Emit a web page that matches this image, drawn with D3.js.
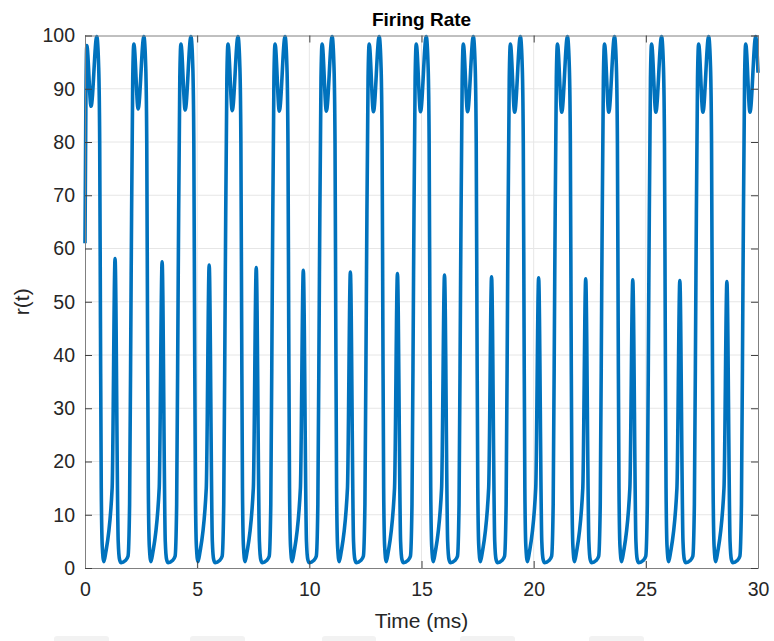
<!DOCTYPE html>
<html>
<head>
<meta charset="utf-8">
<script src="https://cdn.jsdelivr.net/npm/d3@7"></script>
<style>
  html, body { margin: 0; padding: 0; background: #ffffff; }
  svg { display: block; font-family: "Liberation Sans", Arial, Helvetica, sans-serif; }
</style>
</head>
<body>
<svg id="chart" width="774" height="641"></svg>
<script>
// Firing-rate trace r(t): sample times (ms) and rates, one row per burst cycle.
const timeMs = [
  0, 0.04, 0.08, 0.27, 0.525, 0.61, 0.655, 0.69, 0.725, 0.77, 0.84, 0.92, 1.21, 1.34, 1.48, 1.54, 1.61, 1.80,
  1.918, 1.988, 2.058, 2.128, 2.178, 2.368, 2.623, 2.708, 2.753, 2.788, 2.823, 2.868, 2.938, 3.018, 3.308, 3.438, 3.578, 3.638, 3.708, 3.898,
  4.016, 4.086, 4.156, 4.226, 4.276, 4.466, 4.721, 4.806, 4.851, 4.886, 4.921, 4.966, 5.036, 5.116, 5.406, 5.536, 5.676, 5.736, 5.806, 5.996,
  6.114, 6.184, 6.254, 6.324, 6.374, 6.564, 6.819, 6.904, 6.949, 6.984, 7.019, 7.064, 7.134, 7.214, 7.504, 7.634, 7.774, 7.834, 7.904, 8.094,
  8.212, 8.282, 8.352, 8.422, 8.472, 8.662, 8.917, 9.002, 9.047, 9.082, 9.117, 9.162, 9.232, 9.312, 9.602, 9.732, 9.872, 9.932, 10.002, 10.192,
  10.31, 10.38, 10.45, 10.52, 10.57, 10.76, 11.015, 11.10, 11.145, 11.18, 11.215, 11.26, 11.33, 11.41, 11.70, 11.83, 11.97, 12.03, 12.10, 12.29,
  12.408, 12.478, 12.548, 12.618, 12.668, 12.858, 13.113, 13.198, 13.243, 13.278, 13.313, 13.358, 13.428, 13.508, 13.798, 13.928, 14.068, 14.128, 14.198, 14.388,
  14.506, 14.576, 14.646, 14.716, 14.766, 14.956, 15.211, 15.296, 15.341, 15.376, 15.411, 15.456, 15.526, 15.606, 15.896, 16.026, 16.166, 16.226, 16.296, 16.486,
  16.604, 16.674, 16.744, 16.814, 16.864, 17.054, 17.309, 17.394, 17.439, 17.474, 17.509, 17.554, 17.624, 17.704, 17.994, 18.124, 18.264, 18.324, 18.394, 18.584,
  18.702, 18.772, 18.842, 18.912, 18.962, 19.152, 19.407, 19.492, 19.537, 19.572, 19.607, 19.652, 19.722, 19.802, 20.092, 20.222, 20.362, 20.422, 20.492, 20.682,
  20.80, 20.87, 20.94, 21.01, 21.06, 21.25, 21.505, 21.59, 21.635, 21.67, 21.705, 21.75, 21.82, 21.90, 22.19, 22.32, 22.46, 22.52, 22.59, 22.78,
  22.898, 22.968, 23.038, 23.108, 23.158, 23.348, 23.603, 23.688, 23.733, 23.768, 23.803, 23.848, 23.918, 23.998, 24.288, 24.418, 24.558, 24.618, 24.688, 24.878,
  24.996, 25.066, 25.136, 25.206, 25.256, 25.446, 25.701, 25.786, 25.831, 25.866, 25.901, 25.946, 26.016, 26.096, 26.386, 26.516, 26.656, 26.716, 26.786, 26.976,
  27.094, 27.164, 27.234, 27.304, 27.354, 27.544, 27.799, 27.884, 27.929, 27.964, 27.999, 28.044, 28.114, 28.194, 28.484, 28.614, 28.754, 28.814, 28.884, 29.074,
  29.192, 29.262, 29.332, 29.402, 29.452, 29.642, 29.897, 30
];

const rate = [
  61, 88, 98.1, 86.7, 99.8, 94, 80, 45, 15, 4, 1.2, 2.8, 15, 58.1, 5, 1.6, 1.0, 1.4,
  2.2, 12, 55, 92, 98.4, 86.2, 99.8, 94, 80, 45, 15, 4, 1.2, 2.8, 15, 57.5, 5, 1.6, 1.0, 1.4,
  2.2, 12, 55, 92, 98.4, 86.0, 99.8, 94, 80, 45, 15, 4, 1.2, 2.8, 15, 56.9, 5, 1.6, 1.0, 1.4,
  2.2, 12, 55, 92, 98.4, 85.9, 99.8, 94, 80, 45, 15, 4, 1.2, 2.8, 15, 56.4, 5, 1.6, 1.0, 1.4,
  2.2, 12, 55, 92, 98.4, 85.8, 99.8, 94, 80, 45, 15, 4, 1.2, 2.8, 15, 55.9, 5, 1.6, 1.0, 1.4,
  2.2, 12, 55, 92, 98.4, 85.8, 99.8, 94, 80, 45, 15, 4, 1.2, 2.8, 15, 55.6, 5, 1.6, 1.0, 1.4,
  2.2, 12, 55, 92, 98.4, 85.7, 99.8, 94, 80, 45, 15, 4, 1.2, 2.8, 15, 55.3, 5, 1.6, 1.0, 1.4,
  2.2, 12, 55, 92, 98.4, 85.7, 99.8, 94, 80, 45, 15, 4, 1.2, 2.8, 15, 55.0, 5, 1.6, 1.0, 1.4,
  2.2, 12, 55, 92, 98.4, 85.7, 99.8, 94, 80, 45, 15, 4, 1.2, 2.8, 15, 54.7, 5, 1.6, 1.0, 1.4,
  2.2, 12, 55, 92, 98.4, 85.6, 99.8, 94, 80, 45, 15, 4, 1.2, 2.8, 15, 54.5, 5, 1.6, 1.0, 1.4,
  2.2, 12, 55, 92, 98.4, 85.6, 99.8, 94, 80, 45, 15, 4, 1.2, 2.8, 15, 54.3, 5, 1.6, 1.0, 1.4,
  2.2, 12, 55, 92, 98.4, 85.6, 99.8, 94, 80, 45, 15, 4, 1.2, 2.8, 15, 54.1, 5, 1.6, 1.0, 1.4,
  2.2, 12, 55, 92, 98.4, 85.6, 99.8, 94, 80, 45, 15, 4, 1.2, 2.8, 15, 54.0, 5, 1.6, 1.0, 1.4,
  2.2, 12, 55, 92, 98.4, 85.6, 99.8, 94, 80, 45, 15, 4, 1.2, 2.8, 15, 53.8, 5, 1.6, 1.0, 1.4,
  2.2, 12, 55, 92, 98.4, 85.6, 99.8, 93
];

const xTicks = [0, 5, 10, 15, 20, 25, 30];
const yTicks = [0, 10, 20, 30, 40, 50, 60, 70, 80, 90, 100];
const xDomain = [0, 30];
const yDomain = [0, 100];

const titleText = "Firing Rate";
const xLabelText = "Time (ms)";
const yLabelText = "r(t)";

// Layout
const svg = d3.select("#chart");
const plot = { left: 85, top: 35.5, right: 758, bottom: 568 };

const x = d3.scaleLinear().domain(xDomain).range([plot.left, plot.right]);
const y = d3.scaleLinear().domain(yDomain).range([plot.bottom, plot.top]);

const axisColor = "#808080";
const textColor = "#262626";

// Grid lines
const grid = svg.append("g").attr("class", "grid");
grid.selectAll("line.gx").data(xTicks.slice(1, -1)).join("line")
  .attr("x1", d => x(d)).attr("x2", d => x(d))
  .attr("y1", plot.top).attr("y2", plot.bottom)
  .attr("stroke", "#e6e6e6").attr("stroke-width", 1);
grid.selectAll("line.gy").data(yTicks.slice(1, -1)).join("line")
  .attr("x1", plot.left).attr("x2", plot.right)
  .attr("y1", d => y(d)).attr("y2", d => y(d))
  .attr("stroke", "#e6e6e6").attr("stroke-width", 1);

// Data trace
const points = d3.zip(timeMs, rate);
const line = d3.line()
  .x(d => x(d[0]))
  .y(d => y(d[1]))
  .curve(d3.curveMonotoneX);

svg.append("path")
  .datum(points)
  .attr("d", line)
  .attr("fill", "none")
  .attr("stroke", "#0072BD")
  .attr("stroke-width", 3.6)
  .attr("stroke-linejoin", "round");

// Axes with inward ticks on all four sides
const tickLen = 7;
const xAxisBottom = d3.axisBottom(x).tickValues(xTicks).tickSizeInner(-tickLen).tickSizeOuter(0).tickPadding(14).tickFormat(d3.format("d"));
const xAxisTop = d3.axisTop(x).tickValues(xTicks).tickSizeInner(-tickLen).tickSizeOuter(0).tickFormat("");
const yAxisLeft = d3.axisLeft(y).tickValues(yTicks).tickSizeInner(-tickLen).tickSizeOuter(0).tickPadding(10).tickFormat(d3.format("d"));
const yAxisRight = d3.axisRight(y).tickValues(yTicks).tickSizeInner(-tickLen).tickSizeOuter(0).tickFormat("");

function styleAxis(g) {
  g.select(".domain").attr("stroke", axisColor).attr("stroke-width", 1);
  g.selectAll(".tick line").attr("stroke", "#404040").attr("stroke-width", 1);
  g.selectAll(".tick text").attr("fill", textColor).attr("font-size", 19.5)
    .attr("font-family", "'Liberation Sans', Arial, Helvetica, sans-serif");
}

svg.append("g").attr("transform", `translate(0,${plot.bottom})`).call(xAxisBottom).call(styleAxis);
svg.append("g").attr("transform", `translate(0,${plot.top})`).call(xAxisTop).call(styleAxis);
svg.append("g").attr("transform", `translate(${plot.left},0)`).call(yAxisLeft).call(styleAxis);
svg.append("g").attr("transform", `translate(${plot.right},0)`).call(yAxisRight).call(styleAxis);

// Title and axis labels
svg.append("text")
  .attr("x", (plot.left + plot.right) / 2).attr("y", 26)
  .attr("text-anchor", "middle")
  .attr("font-size", 19).attr("font-weight", "bold")
  .attr("fill", "#000000")
  .text(titleText);

svg.append("text")
  .attr("x", (plot.left + plot.right) / 2).attr("y", 628)
  .attr("text-anchor", "middle")
  .attr("font-size", 21)
  .attr("fill", textColor)
  .text(xLabelText);

svg.append("text")
  .attr("transform", `translate(29,${(plot.top + plot.bottom) / 2}) rotate(-90)`)
  .attr("text-anchor", "middle")
  .attr("font-size", 21)
  .attr("fill", textColor)
  .text(yLabelText);

// Faint window-bar shapes along the lower edge
const footerBars = [[54, 109], [190, 245], [322, 376], [460, 515], [589, 644]];
svg.append("g").selectAll("rect").data(footerBars).join("rect")
  .attr("x", d => d[0]).attr("width", d => d[1] - d[0])
  .attr("y", 636).attr("height", 8).attr("rx", 3)
  .attr("fill", "#f2f2f2");
</script>
</body>
</html>
